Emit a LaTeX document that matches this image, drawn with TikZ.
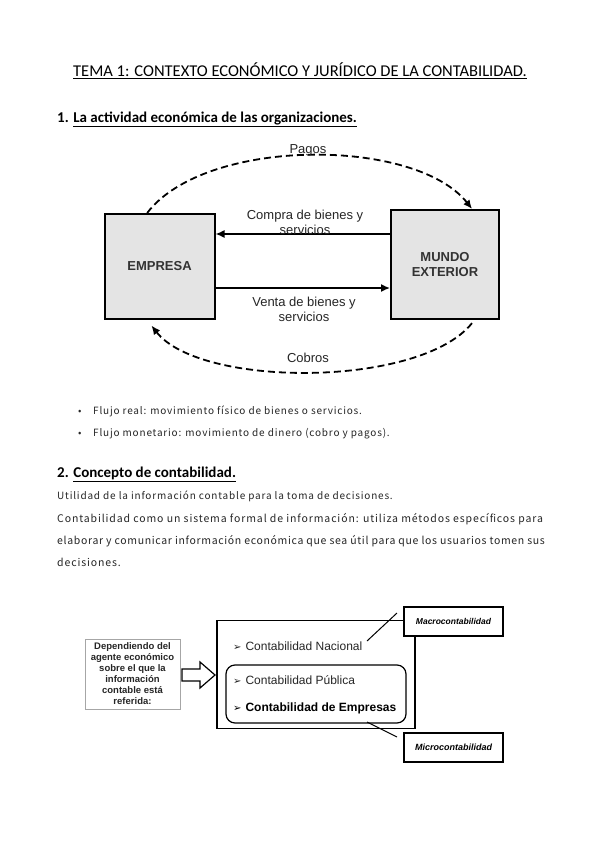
\documentclass[tikz,border=0pt]{standalone}
\usepackage{fontspec}
\setmainfont{Liberation Sans}
\newfontfamily\calfont{Carlito}
\newfontfamily\jpfont[LetterSpace=8]{Noto Sans CJK JP}
\newfontfamily\jpwidefont[LetterSpace=8.4]{Noto Sans CJK JP}
\newfontfamily\jpnarrowfont[LetterSpace=6.3]{Noto Sans CJK JP}
\newfontfamily\symfont{DejaVu Sans}
\usetikzlibrary{arrows.meta,positioning,calc}
\definecolor{boxgray}{HTML}{E4E4E4}

\begin{document}
\begin{tikzpicture}[x=1pt,y=-1pt,
    title/.style={anchor=base, inner sep=0pt, font=\calfont\fontsize{16.5}{19}\selectfont},
    heading/.style={anchor=base west, inner sep=0pt, font=\calfont\bfseries\fontsize{15}{17}\selectfont},
    bodyline/.style={anchor=base west, inner sep=0pt, text=black!85, font=\jpfont\fontsize{10}{12}\selectfont},
    bodywide/.style={bodyline, font=\jpwidefont\fontsize{10.5}{12}\selectfont},
    bodynarrow/.style={bodyline, font=\jpnarrowfont\fontsize{10.5}{12}\selectfont},
    agent/.style={rectangle, draw=black, line width=2pt, fill=boxgray, minimum width=110pt, minimum height=105pt, align=center, text=black!80, font=\bfseries\fontsize{13}{15}\selectfont},
    realflow/.style={-{Latex[length=9pt,width=8pt]}, line width=1.5pt},
    cashflow/.style={-{Latex[length=9pt,width=8pt]}, line width=1.8pt, dash pattern=on 7pt off 4pt},
    flowlabel/.style={align=center, inner sep=0pt, text=black!85, font=\fontsize{13}{15}\selectfont},
    tag/.style={rectangle, draw=black, line width=1.3pt, fill=white, minimum width=99pt, minimum height=29pt, inner sep=0pt, font=\bfseries\itshape\fontsize{8.5}{10}\selectfont},
    entry/.style={anchor=base west, inner sep=0pt, text=black!85, font=\fontsize{12}{14}\selectfont},
  ]
  \useasboundingbox[fill=white] (0,0) rectangle (599,848);

  % headings
  \node[title] (T) at (300,77) {\underline{TEMA 1: CONTEXTO ECONÓMICO Y JURÍDICO DE LA CONTABILIDAD.}};
  \node[heading] (H1) at (57,122) {1. \underline{La actividad económica de las organizaciones.}};

  % flujo real y monetario
  \node[agent] (EMP) at (159.5,266.5) {EMPRESA};
  \node[agent, minimum width=108pt, minimum height=109pt] (MUN) at (445,264.5) {MUNDO\\EXTERIOR};

  \draw[realflow] (MUN.west |- 0,234) -- (EMP.east |- 0,234);
  \draw[realflow] (EMP.east |- 0,288) -- (MUN.west |- 0,288);
  \node[flowlabel] (CB) at (305,222) {Compra de bienes y\\servicios};
  \node[flowlabel] (VB) at (304,309) {Venta de bienes y\\servicios};

  \draw[cashflow] (EMP.103) .. controls (205,137) and (415,137) .. (MUN.64);
  \draw[cashflow, shorten <=4pt, shorten >=7pt] (MUN.-62) .. controls (420,388) and (200,388) .. (EMP.-103);
  \node[flowlabel] (PG) at (308,150) {Pagos};
  \node[flowlabel] (CO) at (308,358) {Cobros};

  % tipos de flujo
  \node[bodyline] (B1) at (78,414) {•};
  \node[bodyline] (L1) at (93,414) {Flujo real: movimiento físico de bienes o servicios.};
  \node[bodyline] (B2) at (78,436) {•};
  \node[bodyline] (L2) at (93,436) {Flujo monetario: movimiento de dinero (cobro y pagos).};

  \node[heading] (H2) at (57,477) {2. \underline{Concepto de contabilidad.}};
  \node[bodyline] (P1) at (57,499) {Utilidad de la información contable para la toma de decisiones.};
  \node[bodywide] (P2) at (57,522) {Contabilidad como un sistema formal de información: utiliza métodos específicos para};
  \node[bodynarrow] (P3) at (57,544) {elaborar y comunicar información económica que sea útil para que los usuarios tomen sus};
  \node[bodywide] (P4) at (57,566) {decisiones.};

  % clasificacion segun el agente
  \node[draw=black!35, line width=1pt, minimum width=95pt, minimum height=70pt, inner sep=0pt, align=center, text=black!85, font=\bfseries\fontsize{9.5}{11}\selectfont] (DEP) at (132.5,674) {Dependiendo del\\agente económico\\sobre el que la\\información\\contable está\\referida:};
  \draw[line width=1.2pt, fill=white] (182,669) -- (200,669) -- (200,662) -- (215,675) -- (200,688) -- (200,681) -- (182,681) -- cycle;

  \node[draw, line width=1.8pt, minimum width=198pt, minimum height=108pt] (CTB) at (316,674.5) {};
  \node[draw, line width=1.2pt, rounded corners=9pt, minimum width=180pt, minimum height=58pt] (EMPS) at (316,694) {};
  \node[entry] (NAC) at (233,650.5) {{\symfont\fontsize{10}{12}\selectfont ➢}\hspace{4pt}Contabilidad Nacional};
  \node[entry] (PUB) at (233,684.5) {{\symfont\fontsize{10}{12}\selectfont ➢}\hspace{4pt}Contabilidad Pública};
  \node[entry, font=\bfseries\fontsize{12}{14}\selectfont, text=black] (EMPR) at (233,711.5) {{\symfont\mdseries\fontsize{10}{12}\selectfont ➢}\hspace{4pt}Contabilidad de Empresas};

  \node[tag] (MAC) at (453.5,621.5) {Macrocontabilidad};
  \node[tag, font=\bfseries\itshape\fontsize{9}{11}\selectfont] (MIC) at (453.5,747.5) {Microcontabilidad};
  \coordinate (macFrom) at (397,613);
  \coordinate (macTo) at (367,641);
  \coordinate (micFrom) at (367,722);
  \coordinate (micTo) at (397,737);
  \draw[line width=1pt] (macFrom) -- (macTo);
  \draw[line width=1pt] (micFrom) -- (micTo);
\end{tikzpicture}
\end{document}
